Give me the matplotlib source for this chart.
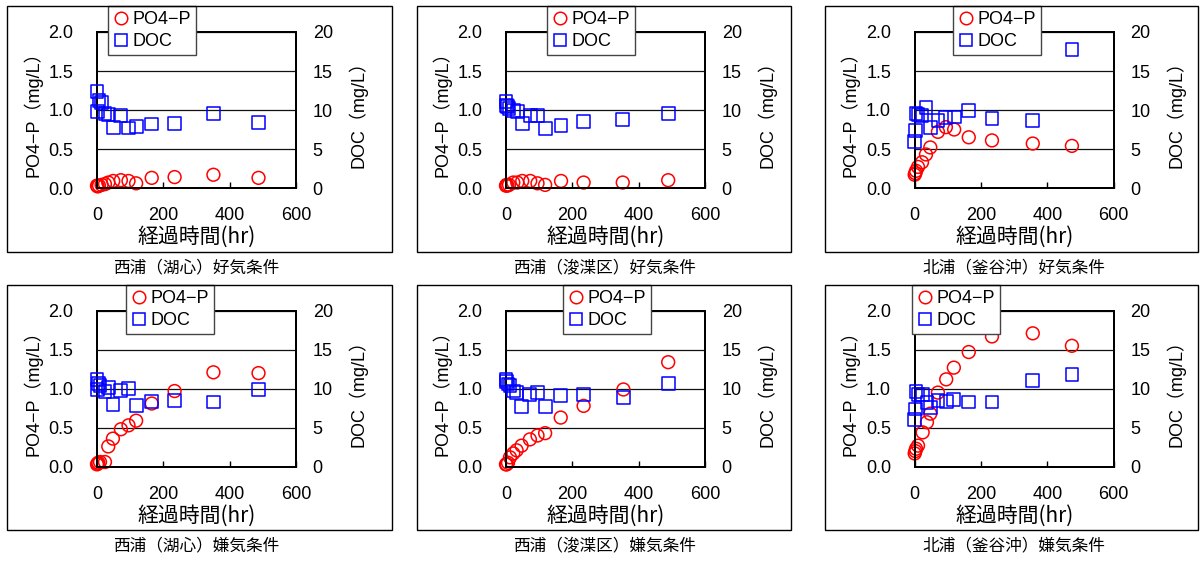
import matplotlib
matplotlib.use('Agg')
import matplotlib.pyplot as plt
from matplotlib.patches import Rectangle
from matplotlib.lines import Line2D

plt.rcParams['font.family'] = ['Liberation Sans', 'Noto Sans CJK JP']

# data (hr, mg/L)
t1 = [0, 2, 6, 14, 24, 34, 49, 72, 95, 118, 165, 234, 351, 487]
po4_1 = [0.03, 0.02, 0.03, 0.04, 0.05, 0.07, 0.09, 0.10, 0.09, 0.06, 0.13, 0.14, 0.17, 0.13]
doc_1 = [12.4, 9.8, 11.2, 11.0, 9.5, 9.4, 7.8, 9.3, 7.7, 7.9, 8.2, 8.3, 9.5, 8.4]

t2 = [0, 2, 4, 9, 22, 34, 49, 73, 95, 118, 166, 234, 352, 489]
po4_2 = [0.03, 0.04, 0.03, 0.04, 0.07, 0.07, 0.09, 0.09, 0.06, 0.04, 0.09, 0.07, 0.07, 0.10]
doc_2 = [11.1, 10.6, 10.4, 10.2, 9.9, 9.8, 8.3, 9.3, 9.3, 7.6, 8.0, 8.5, 8.8, 9.6]

t3 = [0, 2, 4, 10, 22, 34, 47, 70, 94, 119, 163, 233, 356, 474]
po4_3 = [0.17, 0.19, 0.22, 0.27, 0.33, 0.43, 0.52, 0.72, 0.78, 0.75, 0.65, 0.61, 0.57, 0.54]
doc_3 = [6.0, 7.4, 9.5, 9.4, 9.3, 10.3, 7.8, 8.7, 9.0, 9.1, 9.9, 8.9, 8.7, 17.8]

t4 = [0, 2, 4, 9, 24, 34, 48, 72, 95, 118, 165, 234, 351, 487]
po4_4 = [0.03, 0.04, 0.05, 0.06, 0.06, 0.26, 0.36, 0.48, 0.53, 0.59, 0.81, 0.97, 1.21, 1.20]
doc_4 = [11.2, 9.9, 10.7, 10.4, 9.6, 10.2, 8.0, 9.8, 10.0, 7.8, 8.4, 8.5, 8.3, 9.9]

t5 = [0, 2, 6, 12, 22, 32, 47, 72, 95, 118, 165, 234, 354, 489]
po4_5 = [0.03, 0.03, 0.05, 0.12, 0.17, 0.21, 0.27, 0.35, 0.40, 0.43, 0.63, 0.78, 0.99, 1.34]
doc_5 = [11.2, 10.9, 10.6, 10.4, 9.7, 9.5, 7.7, 9.3, 9.5, 7.7, 9.1, 9.3, 8.9, 10.7]

t6 = [0, 2, 4, 10, 24, 37, 47, 70, 95, 118, 163, 233, 356, 474]
po4_6 = [0.17, 0.20, 0.23, 0.27, 0.44, 0.57, 0.68, 0.95, 1.12, 1.27, 1.47, 1.67, 1.71, 1.55]
doc_6 = [6.0, 7.4, 9.6, 9.3, 9.3, 8.2, 7.6, 8.5, 8.4, 8.6, 8.3, 8.3, 11.0, 11.8]

captions = ['西浦（湖心）好気条件', '西浦（浚渫区）好気条件', '北浦（釜谷沖）好気条件',
            '西浦（湖心）嫌気条件', '西浦（浚渫区）嫌気条件', '北浦（釜谷沖）嫌気条件']

times = [t1, t2, t3, t4, t5, t6]
po4 = [po4_1, po4_2, po4_3, po4_4, po4_5, po4_6]
doc = [doc_1, doc_2, doc_3, doc_4, doc_5, doc_6]

W, H = 1200, 561
fig = plt.figure(figsize=(W / 100, H / 100), dpi=100)

# pixel layout: axes left x, axes top y, frame box, legend top-left, caption centre
ax_x = [97, 506, 914.7]
ax_top = [32, 310.7]
ax_w, ax_h = 199, 156
frames_x = [(7, 392), (417, 791), (825, 1198)]
frames_y = [(5.7, 252), (285, 530)]
leg_xy = [(108, 6), (547, 6), (953, 6), (126, 285), (563, 285), (912, 285)]
cap_y = [268, 546]
cap_x = [196, 604, 1014]

for i in range(6):
    r, c = divmod(i, 3)
    fx0, fx1 = frames_x[c]
    fy0, fy1 = frames_y[r]
    fig.patches.append(Rectangle((fx0 / W, 1 - fy1 / H), (fx1 - fx0) / W, (fy1 - fy0) / H,
                                 transform=fig.transFigure, fill=False, ec='black', lw=1.0))

    ax = fig.add_axes([ax_x[c] / W, 1 - (ax_top[r] + ax_h) / H, ax_w / W, ax_h / H])
    ax2 = ax.twinx()

    ax.scatter(times[i], po4[i], s=85, facecolors='none', edgecolors='#ff0000', linewidths=1.1,
               clip_on=False, zorder=3)
    ax2.scatter(times[i], doc[i], marker='s', s=85, facecolors='none', edgecolors='#0000ff',
                linewidths=1.1, clip_on=False, zorder=3)

    ax.set_xlim(0, 600)
    ax.set_ylim(0, 2.0)
    ax2.set_ylim(0, 20)
    ax.set_xticks([0, 200, 400, 600])
    ax.set_yticks([0, 0.5, 1.0, 1.5, 2.0])
    ax.set_yticklabels(['0.0', '0.5', '1.0', '1.5', '2.0'])
    ax2.set_yticks([0, 5, 10, 15, 20])
    ax.yaxis.grid(True, color='#111111', lw=0.9)
    ax.set_axisbelow(True)

    ax.tick_params(axis='x', direction='in', length=4, width=1, labelsize=13, pad=14)
    ax.tick_params(axis='y', length=0, labelsize=13, pad=17)
    ax2.tick_params(axis='y', length=0, labelsize=13, pad=12)
    for a in (ax, ax2):
        for s in a.spines.values():
            s.set_linewidth(1.4)
            s.set_color('black')

    ax.set_xlabel('経過時間(hr)', fontsize=15, family=['Noto Sans CJK JP'], va='center')
    ax.xaxis.set_label_coords(0.5, -0.315)
    ax.set_ylabel('PO4−P（mg/L）', fontsize=13, va='center')
    ax.yaxis.set_label_coords(-0.325, 0.5)
    ax2.set_ylabel('DOC（mg/L）', fontsize=13, va='center', rotation=90)
    ax2.yaxis.set_label_coords(1.31, 0.5)

    handles = [Line2D([], [], ls='none', marker='o', ms=9, mfc='none', mec='#ff0000', mew=1.1),
               Line2D([], [], ls='none', marker='s', ms=9, mfc='none', mec='#0000ff', mew=1.1)]
    lx, ly = leg_xy[i]
    leg = ax2.legend(handles, ['PO4−P', 'DOC'], loc='upper left',
                     bbox_to_anchor=(lx / W, 1 - ly / H), bbox_transform=fig.transFigure,
                     borderaxespad=0, fontsize=13, fancybox=False, framealpha=1,
                     edgecolor='#444444', handlelength=0.8, handletextpad=0.25,
                     borderpad=0.3, labelspacing=0.25)
    leg.get_frame().set_linewidth(1.0)

    fig.text(cap_x[c] / W, 1 - cap_y[r] / H, captions[i], ha='center', va='center',
             fontsize=12, family=['Noto Sans CJK JP'])

fig.savefig('out.png', dpi=100)
